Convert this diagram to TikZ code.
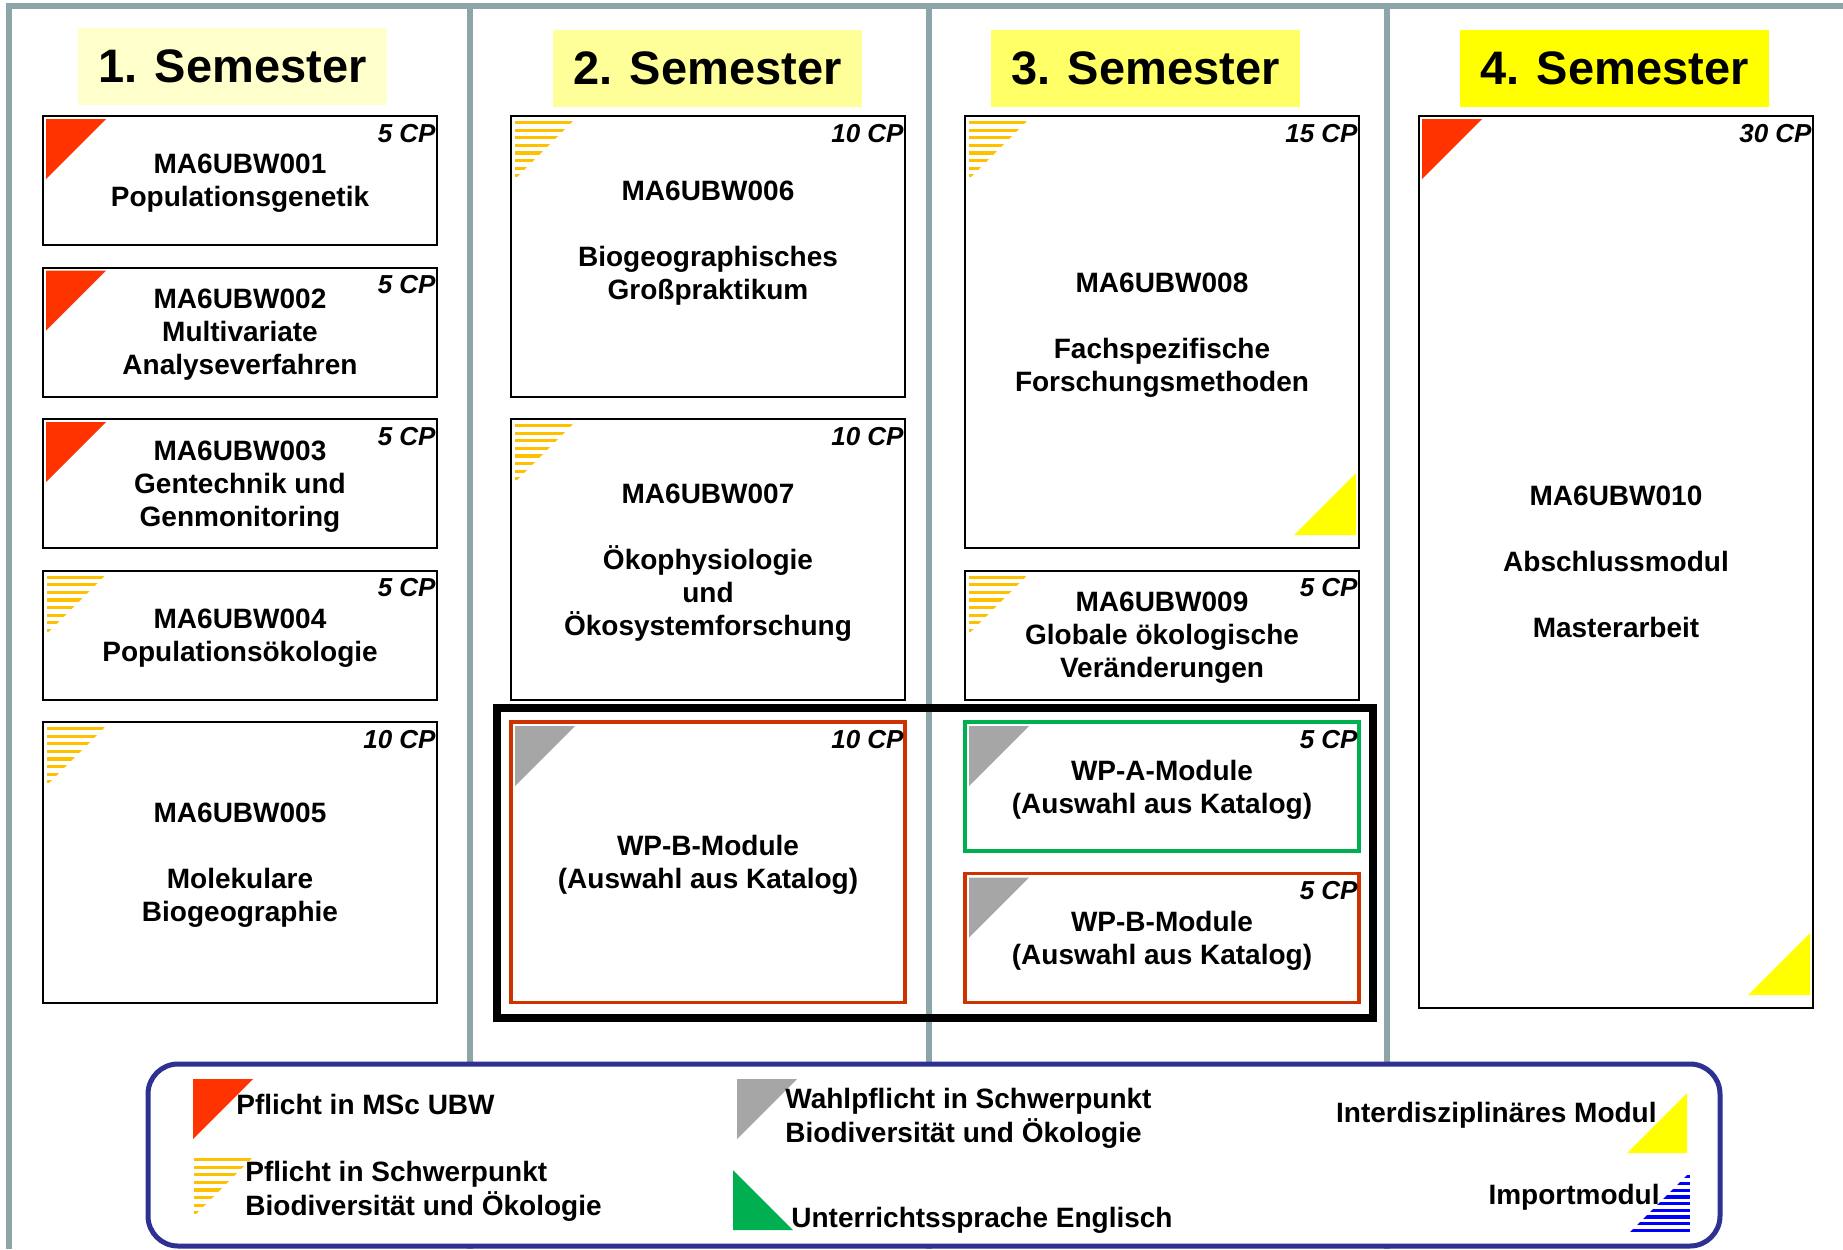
\documentclass[tikz,border=0pt]{standalone}
\usepackage{fontspec}
\setmainfont{Liberation Sans}
\usepackage{tikz}
\usetikzlibrary{calc,positioning}

\definecolor{rahmengrau}{RGB}{139,165,168}
\definecolor{semfarbeA}{RGB}{255,255,204}
\definecolor{semfarbeB}{RGB}{255,255,153}
\definecolor{semfarbeC}{RGB}{255,255,102}
\definecolor{semfarbeD}{RGB}{255,255,0}
\definecolor{pflichtrot}{RGB}{255,51,0}
\definecolor{schwerpunktgelb}{RGB}{255,192,0}
\definecolor{wahlgrau}{RGB}{166,166,166}
\definecolor{englischgruen}{RGB}{0,176,80}
\definecolor{interdiszgelb}{RGB}{255,255,0}
\definecolor{importblau}{RGB}{0,0,255}
\definecolor{wpbrot}{RGB}{204,51,0}
\definecolor{legendeblau}{RGB}{46,49,146}

\tikzset{
	semester/.style = {minimum width=154.5pt, minimum height=38.5pt, inner sep=0pt,
		font=\fontsize{23.5}{28}\selectfont\bfseries},
	modul/.style = {draw, line width=1pt, minimum width=197pt, inner sep=0pt, outer sep=0pt, align=center,
		text depth=0pt, font=\fontsize{14}{16.5}\selectfont\bfseries},
	einfach/.style = {modul, minimum height=64.5pt},
	doppelt/.style = {modul, minimum height=140.25pt},
	cp/.style = {inner sep=0pt, anchor=base east, font=\fontsize{13}{15}\selectfont\bfseries\itshape},
	legtext/.style = {inner sep=0pt, align=left, font=\fontsize{14}{17}\selectfont\bfseries}
}

% corner marks
\newcommand{\obenlinks}[3]{\fill[#1] #2 -- ++(#3,0) -- ++(-#3,#3) -- cycle;}
\newcommand{\untenrechts}[3]{\fill[#1] #2 -- ++(0,-#3) -- ++(-#3,#3) -- cycle;}
\newcommand{\untenlinks}[3]{\fill[#1] #2 -- ++(0,#3) -- ++(#3,0) -- cycle;}
\newcommand{\schwerpunkt}[1]{%
	\begin{scope}
		\clip #1 -- ++(58,0) -- ++(-58,58) -- cycle;
		\foreach \s in {0,...,7} \fill[schwerpunktgelb] #1 ++(0,7.6*\s) rectangle ++(58,3.2);
	\end{scope}}
\newcommand{\importmodul}[1]{%
	\begin{scope}
		\clip #1 -- ++(0,-60) -- ++(-60,60) -- cycle;
		\foreach \s in {0,...,8} \fill[importblau] #1 ++(-60,-3.2-6.7*\s) rectangle ++(60,3.2);
	\end{scope}}

\begin{document}
\begin{tikzpicture}[x=0.5pt, y=-0.5pt]
    \useasboundingbox (0,0) rectangle (1843,1249);
    % Frame
    \draw[rahmengrau, line width=3pt] (6,6) -- (1843,6);
    \foreach \x in {8.5,470,929,1387}
        \draw[rahmengrau, line width=3pt] (\x,6) -- (\x,1249);

    % Semesters
    \node[semester, fill=semfarbeA] (sem1) at (232.5,66) {1. Semester};
    \node[semester, fill=semfarbeB] (sem2) at (707.5,68.5) {2. Semester};
    \node[semester, fill=semfarbeC] (sem3) at (1145.5,68.5) {3. Semester};
    \node[semester, fill=semfarbeD] (sem4) at (1614.5,68.5) {4. Semester};

    % Modules
    \node[einfach, anchor=north west] (m1) at (43,116) {MA6UBW001\\Populationsgenetik};
    \node[einfach, below=11.25pt of m1] (m2) {MA6UBW002\\Multivariate\\Analyseverfahren};
    \node[einfach, below=11.25pt of m2] (m3) {MA6UBW003\\Gentechnik und\\Genmonitoring};
    \node[einfach, below=11.25pt of m3] (m4) {MA6UBW004\\Populationsökologie};
    \node[doppelt, below=11.25pt of m4] (m5) {MA6UBW005\\[16.5pt]Molekulare\\Biogeographie};

    \node[doppelt, anchor=north west] (m6) at (511,116) {MA6UBW006\\[16.5pt]Biogeographisches\\Großpraktikum\\~};
    \node[doppelt, below=11.25pt of m6] (m7) {MA6UBW007\\[16.5pt]Ökophysiologie\\und\\Ökosystemforschung};
    \node[doppelt, draw=wpbrot, line width=1.75pt, below=11.25pt of m7] (wpb1) {WP-B-Module\\(Auswahl aus Katalog)};

    \node[modul, minimum height=216pt, anchor=north west] (m8) at (965,116) {MA6UBW008\\[16.5pt]Fachspezifische\\Forschungsmethoden};
    \node[einfach, below=11.25pt of m8] (m9) {MA6UBW009\\Globale ökologische\\Veränderungen};
    \node[einfach, draw=englischgruen, line width=1.75pt, below=11.25pt of m9] (wpa) {WP-A-Module\\(Auswahl aus Katalog)};
    \node[einfach, draw=wpbrot, line width=1.75pt, below=11.25pt of wpa] (wpb2) {WP-B-Module\\(Auswahl aus Katalog)};

    \node[modul, minimum height=446pt, anchor=north west] (m10) at (1419,116) {MA6UBW010\\[16.5pt]Abschlussmodul\\[16.5pt]Masterarbeit};

    \node[draw, line width=4pt, minimum width=438pt, minimum height=155pt] (wahlrahmen) at (935,863) {};

    % Credits
    \foreach \m/\punkte in {m1/5,m2/5,m3/5,m4/5,m5/10,m6/10,m7/10,wpb1/10,m8/15,m9/5,wpa/5,wpb2/5,m10/30}
        \node[cp] (\m-cp) at ($(\m.north east)+(-1,26)$) {\punkte{} CP};

    % Corner marks
    \foreach \m in {m1,m2,m3,m10} {\obenlinks{pflichtrot}{($(\m.north west)+(3,3)$)}{60}}
    \foreach \m in {m4,m5,m6,m7,m8,m9} {\schwerpunkt{($(\m.north west)+(4,5)$)}}
    \foreach \m in {wpb1,wpa,wpb2} {\obenlinks{wahlgrau}{($(\m.north west)+(4,4)$)}{60}}
    \foreach \m in {m8,m10} {\untenrechts{interdiszgelb}{($(\m.south east)+(-3,-13)$)}{62}}

    % Legend
    \node[draw=legendeblau, line width=2.5pt, fill=white, rounded corners=15pt,
        minimum width=786pt, minimum height=91pt] (legende) at (934,1155) {};
    \obenlinks{pflichtrot}{(193,1079)}{60}
    \node[legtext, anchor=base west] (leg1) at (236,1114) {Pflicht in MSc UBW};
    \schwerpunkt{(194,1158)}
    \node[legtext, anchor=base west] (leg2) at (245,1215) {Pflicht in Schwerpunkt\\Biodiversität und Ökologie};
    \obenlinks{wahlgrau}{(737,1079)}{60}
    \node[legtext, anchor=base west] (leg3) at (785,1142) {Wahlpflicht in Schwerpunkt\\Biodiversität und Ökologie};
    \untenlinks{englischgruen}{(733,1170)}{60}
    \node[legtext, anchor=base west] (leg4) at (791,1227) {Unterrichtssprache Englisch};
    \untenrechts{interdiszgelb}{(1687,1153)}{60}
    \node[legtext, anchor=base east] (leg5) at (1657,1122) {Interdisziplinäres Modul};
    \importmodul{(1690,1232)}
    \node[legtext, anchor=base east] (leg6) at (1660,1204) {Importmodul};
\end{tikzpicture}
\end{document}
